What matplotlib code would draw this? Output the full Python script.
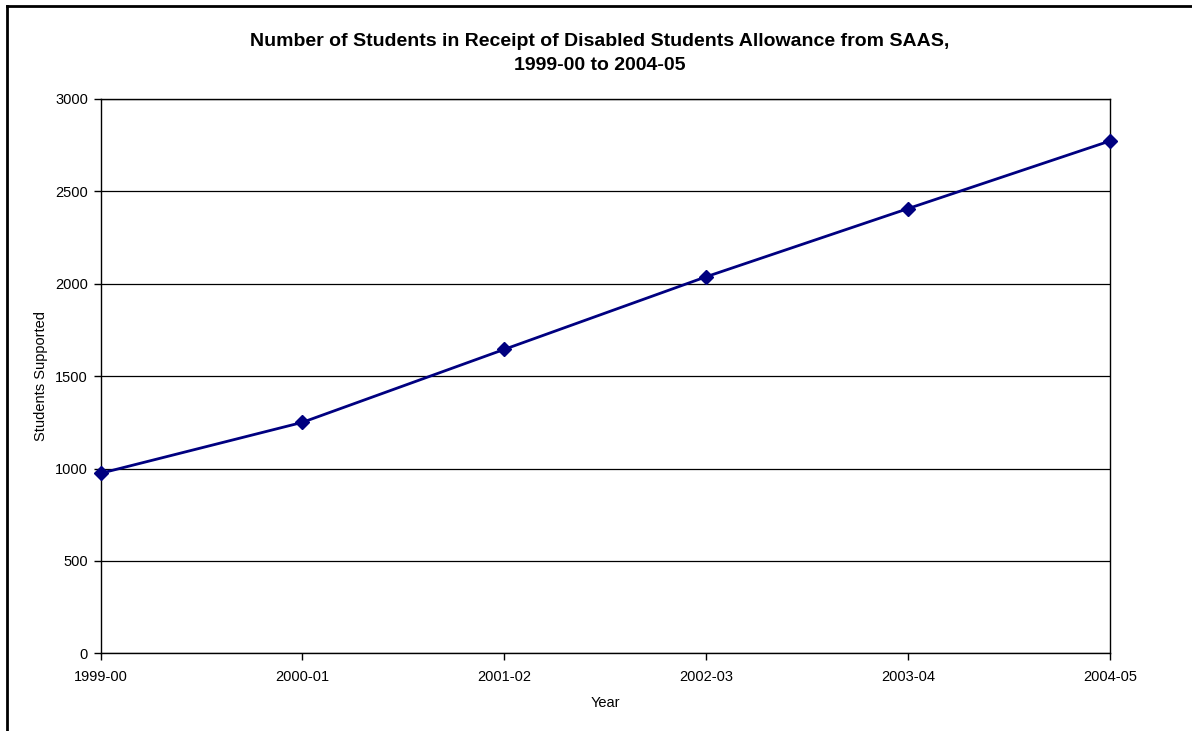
import matplotlib
matplotlib.use("Agg")
import matplotlib.pyplot as plt
from matplotlib.lines import Line2D

plt.rcParams['font.family'] = ['Liberation Sans', 'DejaVu Sans']

years = ["1999-00", "2000-01", "2001-02", "2002-03", "2003-04", "2004-05"]
students = [974, 1250, 1645, 2038, 2407, 2773]
y_ticks = [0, 500, 1000, 1500, 2000, 2500, 3000]

W, H = 1192, 731
fig = plt.figure(figsize=(W / 100, H / 100), dpi=100)
ax = fig.add_axes([100.5 / W, 1 - 653.3 / H, (1110 - 100.5) / W, (653.3 - 99) / H])

x = list(range(len(years)))
ax.plot(x, students, color='#000080', linewidth=2, marker='D', markersize=7.5,
        markerfacecolor='#000080', markeredgecolor='#000080', zorder=3, clip_on=False)

ax.set_xlim(0, len(years) - 1)
ax.set_ylim(0, 3000)
ax.set_xticks(x)
ax.set_xticklabels(years)
ax.set_yticks(y_ticks)
ax.set_yticklabels([str(v) for v in y_ticks])
ax.yaxis.grid(True, color='black', linewidth=0.9)
ax.set_axisbelow(True)
for s in ax.spines.values():
    s.set_color('black')
    s.set_linewidth(1.0)
ax.tick_params(axis='both', direction='out', length=5, width=1, color='black',
               labelsize=10.5, pad=4)
ax.tick_params(axis='x', pad=7)

ax.set_xlabel("Year", fontsize=10.5, labelpad=9)
ax.set_ylabel("Students Supported", fontsize=10.5, labelpad=5)

fig.text(600 / W, 1 - 41 / H, "Number of Students in Receipt of Disabled Students Allowance from SAAS,",
         ha='center', va='center', fontsize=14, fontweight='bold')
fig.text(600 / W, 1 - 66 / H, "1999-00 to 2004-05",
         ha='center', va='center', fontsize=14, fontweight='bold')

# outer chart border (left and top visible)
fig.add_artist(Line2D([7 / W, 7 / W], [0, 1 - 6 / H], color='black', linewidth=2, transform=fig.transFigure))
fig.add_artist(Line2D([7 / W, 1], [1 - 6 / H, 1 - 6 / H], color='black', linewidth=2, transform=fig.transFigure))

fig.savefig("out.png", dpi=100)
